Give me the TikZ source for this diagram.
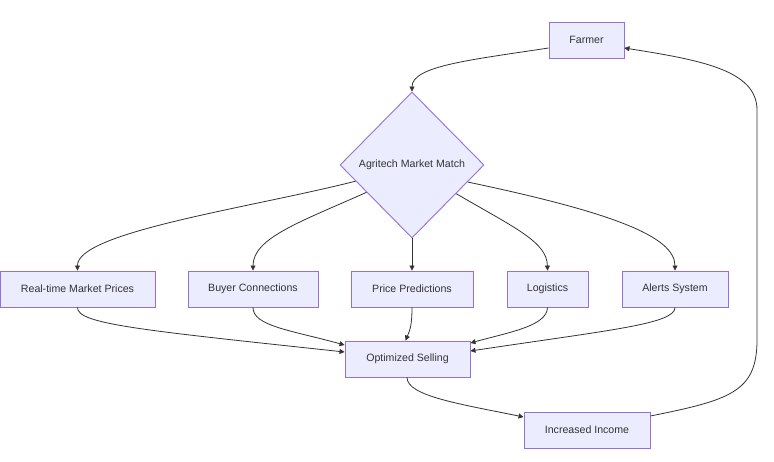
\documentclass[tikz,border=0pt]{standalone}
\usepackage{fontspec}
\setmainfont{Liberation Sans}
\usetikzlibrary{arrows.meta,shapes.geometric}
\definecolor{boxfill}{HTML}{ECECFF}
\definecolor{boxline}{HTML}{9370DB}
\definecolor{ink}{HTML}{333333}
\begin{document}
\begin{tikzpicture}[x=1pt, y=-1pt,
    every node/.style = {font=\fontsize{10.6}{12}\selectfont, text=ink},
    stepbox/.style = {draw=boxline, fill=boxfill, line width=0.9pt,
      minimum height=36pt, inner sep=0pt},
    choice/.style = {diamond, draw=boxline, fill=boxfill, line width=0.9pt,
      minimum width=144pt, minimum height=146pt, inner sep=0pt},
    link/.style = {draw=ink, line width=0.8pt,
      -{Triangle[length=5pt,width=5pt]}}]
  \useasboundingbox (0,0) rectangle (774,462);
  % top
  \node (farmer) [stepbox, minimum width=75pt]  at (586.5,40)  {Farmer};
  \node (match)  [choice]                       at (412,165)   {Agritech Market Match};
  % features
  \node (prices) [stepbox, minimum width=155pt] at (77.5,289)  {Real-time Market Prices};
  \node (buyers) [stepbox, minimum width=130pt] at (253,289)   {Buyer Connections};
  \node (predict)[stepbox, minimum width=122pt] at (412,289)   {Price Predictions};
  \node (logist) [stepbox, minimum width=81pt]  at (547.5,289) {Logistics};
  \node (alerts) [stepbox, minimum width=106pt] at (675,289)   {Alerts System};
  % results
  \node (sell)   [stepbox, minimum width=125pt] at (407.5,359) {Optimized Selling};
  \node (income) [stepbox, minimum width=126pt] at (587,430)   {Increased Income};
  \coordinate (turnlow)  at (757,340);
  \coordinate (turnhigh) at (757,110);

  \draw[link] ([yshift=-8pt]farmer.west) .. controls (470,60) and (412,66) .. (match.north);
  \draw[link] (match.196) .. controls (250,208) and (77,232) .. (prices.north);
  \draw[link] (match.211) .. controls (300,222) and (253,238) .. (buyers.north);
  \draw[link] (match.south) -- (predict.north);
  \draw[link] (match.327) .. controls (515,228) and (547,242) .. (logist.north);
  \draw[link] (match.343) .. controls (610,212) and (675,236) .. (alerts.north);
  \draw[link] (prices.south) .. controls (77,324) and (140,330) .. ([yshift=7pt]sell.west);
  \draw[link] (buyers.south) .. controls (253,326) and (290,330) .. ([yshift=14pt]sell.west);
  \draw[link] (predict.south) .. controls (412,325) and (410,330) .. ([xshift=-2pt]sell.north);
  \draw[link] (logist.south) .. controls (547,326) and (510,332) .. ([yshift=16pt]sell.east);
  \draw[link] (alerts.south) .. controls (675,324) and (610,330) .. ([yshift=8pt]sell.east);
  \draw[link] ([xshift=-0.5pt]sell.south) .. controls (407,396) and (460,404) .. ([yshift=13pt]income.west);
  \draw[link] ([yshift=14pt]income.east) .. controls (730,400) and (757,392) .. (turnlow)
    -- (turnhigh) .. controls (757,70) and (700,60) .. ([yshift=-8pt]farmer.east);
\end{tikzpicture}
\end{document}
